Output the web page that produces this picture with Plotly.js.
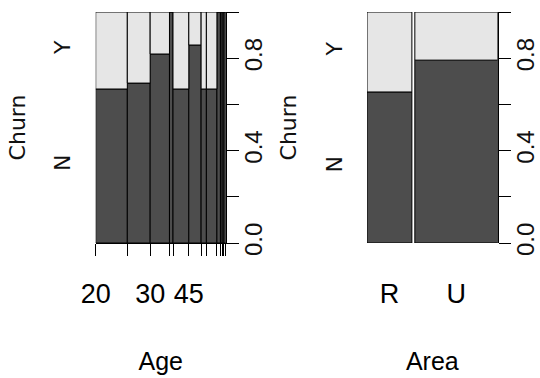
<!DOCTYPE html>
<html><head><meta charset="utf-8">
<script src="https://cdn.plot.ly/plotly-3.0.1.min.js"></script>
<style>html,body{margin:0;padding:0;background:#fff}#chart{width:540px;height:378px}</style>
</head><body><div id="chart"></div>
<script>
// ---- data ----
const ageBreaks = [20,25,30,35,40,45,50,55,60,65,70,75,80];
const ageTickLabels = ['20','','30','','','45','','','','','','',''];
const ageTotal = [18,13,11,2,9,7,3,6,2,1,1,1];
const ageChurnN = [12,9,9,2,6,6,2,4,2,1,1,1];
const areaCategories = ['R','U'];
const areaTotal = [26,48];
const areaChurnN = [17,38];
const churnLevels = ['N','Y'];
const probTicks = [0,0.2,0.4,0.6,0.8,1.0];
const probTickLabels = ['0.0','','0.4','','0.8',''];

// ---- derived ----
const sum = a => a.reduce((s,v)=>s+v,0);
function spine(total, nCount, gap){
  const T = sum(total);
  const w = total.map(t=>t/T);
  const left = []; let acc = 0;
  w.forEach((wi,i)=>{ left.push(acc); acc += wi + gap; });
  const center = left.map((l,i)=>l + w[i]/2);
  const nf = nCount.map((n,i)=>n/total[i]);
  const yf = nf.map(v=>1-v);
  const edges = left.concat([left[left.length-1]+w[w.length-1]]);
  return {w,left,center,nf,yf,edges};
}
const gapArea = 0.023;
const A = spine(ageTotal, ageChurnN, 0);
const B = spine(areaTotal, areaChurnN, gapArea);

const dark = '#4D4D4D', light = '#E6E6E6';
const bar = (c, x, y, base, w, xa, ya) => ({type:'bar', x, y, base, width:w, xaxis:xa, yaxis:ya,
  marker:{color:c, line:{color:'#000', width:1}}, hoverinfo:'skip', showlegend:false});

const data = [
  bar(dark, A.center, A.nf, A.nf.map(()=>0), A.w, 'x', 'y'),
  bar(light, A.center, A.yf, A.nf, A.w, 'x', 'y2'),
  bar(dark, B.center, B.nf, B.nf.map(()=>0), B.w, 'x2', 'y3'),
  bar(light, B.center, B.yf, B.nf, B.w, 'x2', 'y4')
];

const narrow = '"Liberation Sans Narrow", "Arial Narrow", "Liberation Sans", sans-serif';
const rotFont = {family:'"DejaVu Sans", sans-serif', size:22, color:'#111'};
const numFont = {family:'"Liberation Sans", Arial, sans-serif', size:24, color:'#111'};
const xtickFont = {family:narrow, size:27, color:'#000'};
const xtitleFont = {family:narrow, size:25, color:'#000'};
const yDom = [(378-243)/378, (378-12)/378];

function levelAxis(anchor, nf0){
  return {domain:yDom, anchor, range:[0,1], tickmode:'array',
    tickvals:[nf0/2, (1+nf0)/2], ticktext:churnLevels, tickangle:-90,
    ticks:'', showline:false, showgrid:false, zeroline:false,
    tickfont:rotFont, ticklabelstandoff:20,
    title:{text:'Churn', font:rotFont, standoff:18}};
}
function probAxis(anchor, over){
  return {domain:yDom, anchor, overlaying:over, side:'right', range:[0,1], tickmode:'array',
    tickvals:probTicks, ticktext:probTickLabels, tickangle:-90,
    ticks:'outside', ticklen:12, tickwidth:1, tickcolor:'#000',
    showline:true, linecolor:'#000', linewidth:1, showgrid:false, zeroline:false,
    tickfont:numFont, ticklabelstandoff:-6};
}

const layout = {
  width:540, height:378, margin:{l:0,r:0,t:0,b:0},
  paper_bgcolor:'#fff', plot_bgcolor:'#fff', barmode:'overlay', bargap:0,
  xaxis:{domain:[95.7/540, 225.7/540], anchor:'y', range:[0,1], tickmode:'array',
    tickvals:A.edges, ticktext:ageTickLabels, ticks:'outside', ticklen:12, tickcolor:'#000', tickwidth:1,
    showline:true, linecolor:'#000', linewidth:1, showgrid:false, zeroline:false,
    tickfont:xtickFont, ticklabelstandoff:15,
    title:{text:'Age', font:xtitleFont, standoff:44}},
  yaxis: levelAxis('x', A.nf[0]),
  yaxis2: probAxis('x', 'y'),
  xaxis2:{domain:[367/540, 497.7/540], anchor:'y3', range:[0, 1+gapArea], tickmode:'array',
    tickvals:B.center, ticktext:areaCategories, ticks:'', showline:false, showgrid:false, zeroline:false,
    tickfont:xtickFont, ticklabelstandoff:32,
    title:{text:'Area', font:xtitleFont, standoff:44}},
  yaxis3: levelAxis('x2', B.nf[0]),
  yaxis4: probAxis('x2', 'y3')
};
Plotly.newPlot('chart', data, layout, {staticPlot:true, displayModeBar:false});
</script></body></html>
